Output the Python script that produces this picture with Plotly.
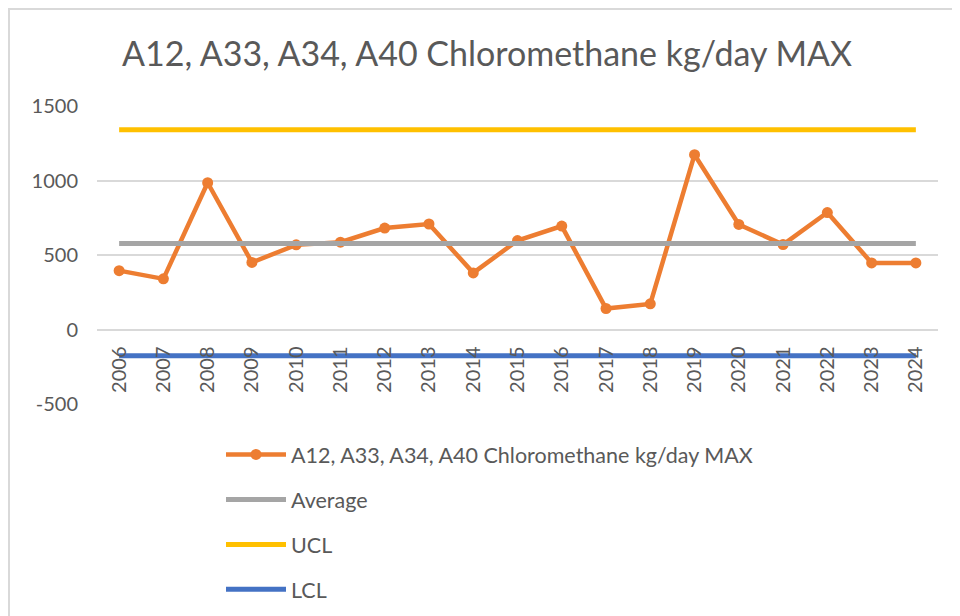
import plotly.graph_objects as go

years = [str(y) for y in range(2006, 2025)]
chloromethane = [395, 340, 985, 450, 568, 586, 681, 708, 380, 597, 694, 141, 172, 1173, 705, 570, 785, 447, 447]
average = [577] * len(years)
ucl = [1340] * len(years)
lcl = [-176] * len(years)
y_tick_values = [-500, 0, 500, 1000, 1500]
y_tick_labels = ["-500", "0", "500", "1000", "1500"]
series_name = "A12, A33, A34, A40 Chloromethane kg/day MAX"

FONT = "Lato"
TXT = "#595959"

fig = go.Figure()
fig.add_trace(go.Scatter(x=years, y=chloromethane, name=series_name, mode="lines+markers",
                         line=dict(color="#ED7D31", width=4.5), marker=dict(size=11, color="#ED7D31"),
                         legendgroup="a"))
fig.add_trace(go.Scatter(x=years, y=average, name="Average", mode="lines",
                         line=dict(color="#A5A5A5", width=5), legendgroup="b"))
fig.add_trace(go.Scatter(x=years, y=ucl, name="UCL", mode="lines",
                         line=dict(color="#FFC000", width=5), legendgroup="c"))
fig.add_trace(go.Scatter(x=years, y=lcl, name="LCL", mode="lines",
                         line=dict(color="#4472C4", width=5), legendgroup="d"))

ML, MR, MT, MB = 89, 30, 98, 220
PW = 960 - ML - MR
PH = 616 - MT - MB

fig.update_layout(
    width=960, height=616,
    margin=dict(l=ML, r=MR, t=MT, b=MB, autoexpand=False),
    paper_bgcolor="white", plot_bgcolor="white",
    font=dict(family=FONT, color=TXT, size=20),
    title=dict(text=series_name, x=479/960, xanchor="center", xref="container",
               y=1 - 46/616, yanchor="middle", yref="container",
               font=dict(size=34, color=TXT, family=FONT)),
    showlegend=True,
    legend=dict(orientation="v", xref="container", yref="container",
                x=213/960, xanchor="left", y=1 - 426/616, yanchor="top",
                font=dict(size=21.5, color=TXT, family=FONT),
                tracegroupgap=14, itemwidth=60, bgcolor="rgba(0,0,0,0)"),
    xaxis=dict(type="category", range=[-0.5, 18.5], showgrid=False, zeroline=False,
               showline=False, ticks="", tickangle=-90, anchor="free", position=0.25,
               tickfont=dict(size=20, color=TXT, family=FONT), ticklabelstandoff=12),
    yaxis=dict(range=[-500, 1500], tickvals=y_tick_values, ticktext=y_tick_labels,
               showgrid=True, gridcolor="#D9D9D9",
               gridwidth=1.5, zeroline=False, showline=False, ticks="",
               tickfont=dict(size=20, color=TXT, family=FONT), ticklabelstandoff=18),
    shapes=[dict(type="rect", xref="paper", yref="paper", layer="below",
                 x0=(1 - ML) / PW, x1=(990 - ML) / PW,
                 y0=(616 - MB - 650) / PH, y1=(616 - MB - 1) / PH,
                 line=dict(color="#D9D9D9", width=2))],
)

fig.write_html("out.html")
